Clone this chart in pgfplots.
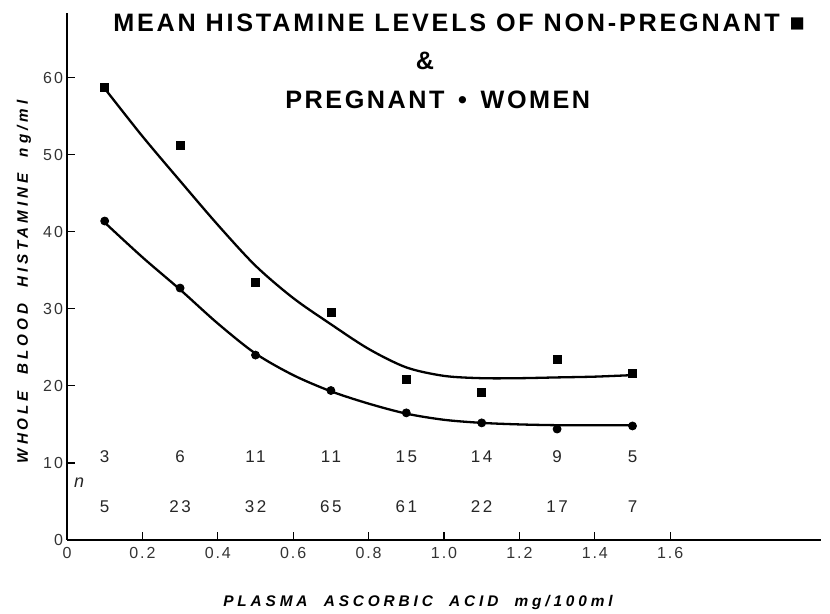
\documentclass[border=0pt]{standalone}
\usepackage{fontspec}
\setmainfont{Liberation Sans}
\usepackage{pgfplots}
\pgfplotsset{compat=1.18}
\begin{document}
\begin{tikzpicture}
\path[use as bounding box] (0,0) rectangle (415pt,307pt);
\begin{axis}[
  at={(33.5pt,37pt)}, anchor=south west,
  scale only axis, width=377pt, height=263.5pt,
  xmin=0, xmax=2, ymin=0, ymax=68.4,
  axis x line*=bottom, axis y line*=left,
  axis line style={line width=1.3pt},
  xtick={0,0.2,0.4,0.6,0.8,1.0,1.2,1.4,1.6},
  xticklabels={0,0.2,0.4,0.6,0.8,1.0,1.2,1.4,1.6},
  ytick={0,10,20,30,40,50,60},
  tick align=inside, major tick length=4pt,
  tick style={line width=0.6pt, black},
  /pgf/number format/assume math mode=true,
  ticklabel style={font=\fontsize{8}{9}\selectfont\addfontfeatures{LetterSpace=12}, text=black!80},
  yticklabel style={xshift=1.5pt},
  clip=false,
]
\addplot[line width=1.15pt, smooth] coordinates {
 (0.1,58.6) (0.2,52.4) (0.3,46.6) (0.4,40.9) (0.5,35.6) (0.6,31.4) (0.7,28.0) (0.8,24.8) (0.9,22.4) (1.0,21.3) (1.1,21.0) (1.2,21.0) (1.3,21.1) (1.4,21.2) (1.5,21.4)};
\addplot[line width=1.15pt, smooth] coordinates {
 (0.1,41.2) (0.2,36.7) (0.3,32.5) (0.4,28.1) (0.5,24.2) (0.6,21.4) (0.7,19.3) (0.8,17.7) (0.9,16.4) (1.0,15.6) (1.1,15.2) (1.2,15.0) (1.3,14.9) (1.4,14.9) (1.5,14.9)};
\addplot[only marks, mark=square*, mark size=2pt, black] coordinates {
 (0.1,58.8) (0.3,51.2) (0.5,33.4) (0.7,29.6) (0.9,20.9) (1.1,19.1) (1.3,23.5) (1.5,21.6)};
\addplot[only marks, mark=*, mark size=2pt, black] coordinates {
 (0.1,41.4) (0.3,32.7) (0.5,24.0) (0.7,19.4) (0.9,16.5) (1.1,15.2) (1.3,14.4) (1.5,14.8)};
\begin{scope}[every node/.style={font=\fontsize{8.5}{9}\selectfont\addfontfeatures{LetterSpace=15}, text=black!85}]
\node at (axis cs:0.1,10.8) {3};
\node at (axis cs:0.3,10.8) {6};
\node at (axis cs:0.5,10.8) {11};
\node at (axis cs:0.7,10.8) {11};
\node at (axis cs:0.9,10.8) {15};
\node at (axis cs:1.1,10.8) {14};
\node at (axis cs:1.3,10.8) {9};
\node at (axis cs:1.5,10.8) {5};
\node at (axis cs:0.1,4.3) {5};
\node at (axis cs:0.3,4.3) {23};
\node at (axis cs:0.5,4.3) {32};
\node at (axis cs:0.7,4.3) {65};
\node at (axis cs:0.9,4.3) {61};
\node at (axis cs:1.1,4.3) {22};
\node at (axis cs:1.3,4.3) {17};
\node at (axis cs:1.5,4.3) {7};
\node[font=\itshape\fontsize{9}{9}\selectfont] at (axis cs:0.032,7.4) {n};
\end{scope}
\end{axis}
\node[anchor=west, inner sep=0, font=\bfseries\fontsize{12.6}{14}\selectfont\addfontfeatures{LetterSpace=11}] at (56.5pt,295.5pt) {MEAN HISTAMINE LEVELS OF NON-PREGNANT ■};
\node[inner sep=0, font=\bfseries\fontsize{12.6}{14}\selectfont] at (212.5pt,276.5pt) {\&};
\node[anchor=west, inner sep=0, font=\bfseries\fontsize{12.6}{14}\selectfont\addfontfeatures{LetterSpace=10}] at (142.5pt,257pt) {PREGNANT\, • \,WOMEN};
\node[rotate=90, inner sep=0, font=\bfseries\itshape\fontsize{7.6}{9}\selectfont\addfontfeatures{LetterSpace=26}] at (12pt,166pt) {WHOLE\ \ BLOOD\ \ HISTAMINE\ \ ng/ml};
\node[inner sep=0, font=\bfseries\itshape\fontsize{7.7}{9}\selectfont\addfontfeatures{LetterSpace=25}] at (209pt,5.5pt) {PLASMA\ \ ASCORBIC\ \ ACID\ \ mg/100ml};
\end{tikzpicture}
\end{document}
